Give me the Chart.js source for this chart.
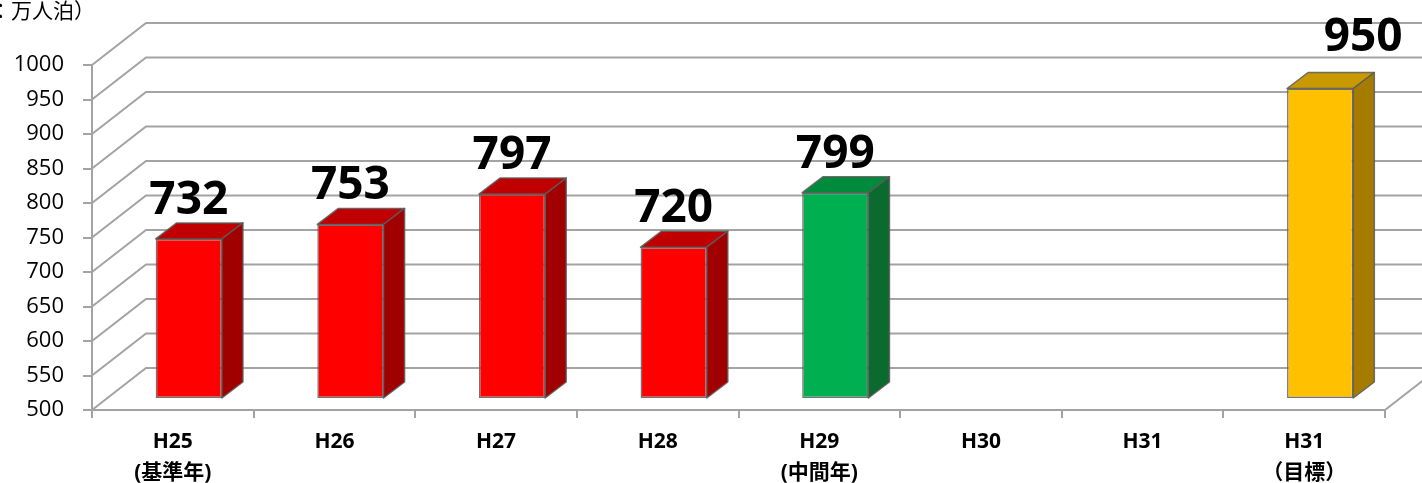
<!DOCTYPE html>
<html>
<head>
<meta charset="utf-8">
<script src="https://cdn.jsdelivr.net/npm/chart.js@4/dist/chart.umd.min.js"></script>
<style>
  html, body { margin: 0; padding: 0; background: #fff; }
  #wrap { width: 1422px; height: 483px; position: relative; }
</style>
</head>
<body>
<div id="wrap"><canvas id="chart"></canvas></div>
<script>
// Data
const categories = [
  ['H25', '(基準年)'], 'H26', 'H27', 'H28', ['H29', '(中間年)'], 'H30', 'H31', ['H31', '（目標）']
];
const values = [732, 753, 797, 720, 799, null, null, 950];
const yTicks = [500, 550, 600, 650, 700, 750, 800, 850, 900, 950, 1000];
const unitPrefix = '（単位：';
const unitLabel = '万人泊）';

// Styles
const faceColors = ['#FF0000', '#FF0000', '#FF0000', '#FF0000', '#00B050', null, null, '#FFC000'];
const topColors = ['#C00000', '#C00000', '#C00000', '#C00000', '#008A3C', null, null, '#C99A00'];
const sideColors = ['#A00000', '#A00000', '#A00000', '#A00000', '#0B6B2E', null, null, '#A67C00'];
const GRID = '#A3A3A3';
const EDGE = 'rgba(90,90,90,0.85)';
const FONT = '"Open Sans", "Noto Sans CJK JP", sans-serif';

// 3D geometry offsets (pixels)
const wall = { dx: 54, dy: -42 };   // front plane -> back wall
const front = { dx: 16, dy: -11 };  // front plane -> bar front face
const bar3d = { dx: 21, dy: -16 };  // bar depth

function poly(ctx, pts, fill) {
  ctx.beginPath();
  ctx.moveTo(pts[0][0], pts[0][1]);
  for (let i = 1; i < pts.length; i++) ctx.lineTo(pts[i][0], pts[i][1]);
  ctx.closePath();
  ctx.fillStyle = fill;
  ctx.fill();
  ctx.stroke();
}

const threeD = {
  id: 'threeD',
  beforeDatasetsDraw(chart) {
    const { ctx, chartArea: a, scales: { y } } = chart;
    ctx.save();
    ctx.strokeStyle = GRID;
    ctx.lineWidth = 2;
    yTicks.forEach(v => {
      const py = y.getPixelForValue(v);
      ctx.beginPath();
      ctx.moveTo(a.left, py);
      ctx.lineTo(a.left + wall.dx, py + wall.dy);
      ctx.lineTo(a.right + wall.dx, py + wall.dy);
      ctx.stroke();
    });
    // right edge of floor
    ctx.beginPath();
    ctx.moveTo(a.right, a.bottom);
    ctx.lineTo(a.right + wall.dx, a.bottom + wall.dy);
    ctx.stroke();
    ctx.restore();

    // bars sit a bit behind the front plane
    ctx.save();
    ctx.translate(front.dx, front.dy);
  },
  afterDatasetsDraw(chart) {
    const { ctx } = chart;
    const meta = chart.getDatasetMeta(0);
    ctx.strokeStyle = EDGE;
    ctx.lineWidth = 1.5;
    ctx.lineJoin = 'round';
    meta.data.forEach((el, i) => {
      if (values[i] == null) return;
      const { x, y, base, width } = el.getProps(['x', 'y', 'base', 'width'], true);
      const l = x - width / 2, r = x + width / 2;
      poly(ctx, [[l, y], [r, y], [r + bar3d.dx, y + bar3d.dy], [l + bar3d.dx, y + bar3d.dy]], topColors[i]);
      poly(ctx, [[r, y], [r + bar3d.dx, y + bar3d.dy], [r + bar3d.dx, base + bar3d.dy], [r, base]], sideColors[i]);
    });
    ctx.restore();

    // value labels
    ctx.save();
    ctx.fillStyle = '#000';
    ctx.font = 'bold 46px ' + FONT;
    ctx.textAlign = 'center';
    ctx.textBaseline = 'alphabetic';
    meta.data.forEach((el, i) => {
      if (values[i] == null) return;
      let lx = el.x + front.dx;
      let ly = el.y + front.dy + bar3d.dy - 9;
      if (i === values.length - 1) { lx += 43; ly -= 13; } // target label was nudged right/up
      ctx.fillText(String(values[i]), lx, ly);
    });
    ctx.restore();
  },
  afterDraw(chart) {
    // unit caption, partly cut off at the left edge
    const { ctx } = chart;
    ctx.save();
    ctx.fillStyle = '#000';
    ctx.font = '21px ' + FONT;
    ctx.textAlign = 'left';
    ctx.textBaseline = 'middle';
    const w = ctx.measureText(unitPrefix).width;
    ctx.fillText(unitPrefix + unitLabel, 11 - w, 12);
    ctx.restore();
  }
};

new Chart(document.getElementById('chart'), {
  type: 'bar',
  data: {
    labels: categories,
    datasets: [{
      data: values,
      base: 500,
      backgroundColor: faceColors,
      borderColor: EDGE,
      borderWidth: 1.5,
      borderSkipped: false,
      barPercentage: 0.41,
      categoryPercentage: 1.0,
    }],
  },
  options: {
    responsive: true,
    maintainAspectRatio: false,
    animation: false,
    layout: { padding: { top: 65, right: 37, left: 0, bottom: 0 } },
    plugins: {
      legend: { display: false },
      tooltip: { enabled: false },
    },
    scales: {
      x: {
        afterFit: s => { s.height = 73; },
        grid: { drawOnChartArea: false, drawTicks: true, tickLength: 8, color: GRID, lineWidth: 2 },
        border: { display: true, color: GRID, width: 2 },
        ticks: {
          color: '#000',
          font: { family: FONT, size: 21, weight: 'bold', lineHeight: 1.45 },
          padding: 9,
          maxRotation: 0,
          autoSkip: false,
        },
      },
      y: {
        min: 500,
        max: 1000,
        afterFit: s => { s.width = 92; },
        afterBuildTicks: s => { s.ticks = yTicks.map(v => ({ value: v })); },
        grid: { drawOnChartArea: false, drawTicks: true, tickLength: 9, color: GRID, lineWidth: 2 },
        border: { display: true, color: GRID, width: 2 },
        ticks: {
          color: '#000',
          font: { family: FONT, size: 22 },
          padding: 19,
          callback: v => String(v),
        },
      },
    },
  },
  plugins: [threeD],
});
</script>
</body>
</html>
